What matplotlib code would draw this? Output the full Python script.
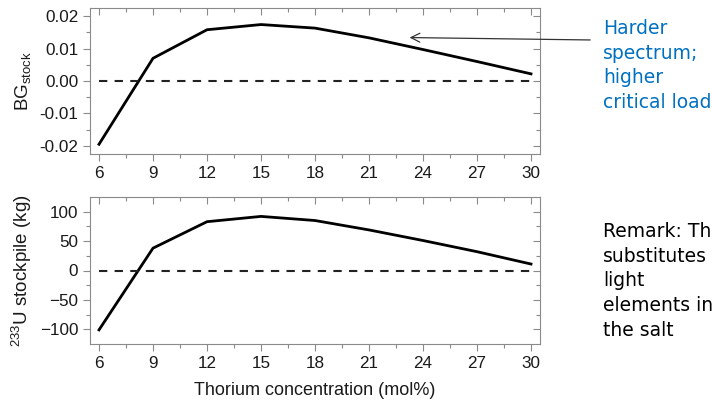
import matplotlib
matplotlib.use("Agg")
import matplotlib.pyplot as plt

# data
thorium = [6, 9, 12, 15, 18, 21, 24, 27, 30]
bg_stock = [-0.0195, 0.0070, 0.0158, 0.0174, 0.0163, 0.0133, 0.0097, 0.0060, 0.0022]
u233_stock = [-101, 38, 83, 92, 85, 69, 51, 32, 11]
xticks = [6, 9, 12, 15, 18, 21, 24, 27, 30]

plt.rcParams["font.family"] = ["Liberation Sans", "DejaVu Sans"]
fig = plt.figure(figsize=(7.12, 4.08), dpi=100)
W, H = 712, 408

def style(ax, ylim, major, minor):
    ax.set_xlim(5.5, 30.5)
    ax.set_ylim(*ylim)
    ax.set_xticks(xticks)
    ax.set_xticks([x + 1.5 for x in xticks[:-1]], minor=True)
    ax.set_yticks(major)
    ax.set_yticks(minor, minor=True)
    for s in ax.spines.values():
        s.set_color("#8a8a8a")
        s.set_linewidth(0.8)
    ax.tick_params(which="both", direction="out", color="#8a8a8a",
                   labelsize=12.3, labelcolor="#1a1a1a", top=True, right=True)
    ax.tick_params(which="major", length=5, width=0.8)
    ax.tick_params(which="minor", length=3, width=0.8)
    # top/right ticks point inward
    for t in ax.xaxis.get_major_ticks() + ax.xaxis.get_minor_ticks():
        t.tick2line.set_marker(3)
    for t in ax.yaxis.get_major_ticks() + ax.yaxis.get_minor_ticks():
        t.tick2line.set_marker(0)
    ax.axhline(0, color="#222222", lw=1.5, ls=(0, (4, 3.5)), xmin=0.02, xmax=0.98)

# top panel
ax1 = fig.add_axes([90 / W, 1 - 154 / H, 450 / W, 146 / H])
ax1.plot(thorium, bg_stock, color="black", lw=2)
style(ax1, (-0.0225, 0.0225), [-0.02, -0.01, 0.0, 0.01, 0.02],
      [-0.015, -0.005, 0.005, 0.015])
ax1.set_yticklabels(["-0.02", "-0.01", "0.00", "0.01", "0.02"])
ax1.set_ylabel(r"BG$_{\mathregular{stock}}$", fontsize=13.5, color="#1a1a1a", labelpad=4)

# bottom panel
ax2 = fig.add_axes([90 / W, 1 - 344 / H, 450 / W, 147 / H])
ax2.plot(thorium, u233_stock, color="black", lw=2)
style(ax2, (-125, 125), [-100, -50, 0, 50, 100], [-75, -25, 25, 75])
ax2.set_ylabel(r"$^{\mathregular{233}}$U stockpile (kg)", fontsize=13.5,
               color="#1a1a1a", labelpad=4)
ax2.set_xlabel("Thorium concentration (mol%)", fontsize=13, color="#1a1a1a", labelpad=8)

# annotation on the right
fig.text(603 / W, 1 - 19 / H, "Harder\nspectrum;\nhigher\ncritical load",
         color="#0070c0", fontsize=13.5, family="DejaVu Sans", va="top",
         linespacing=1.38)
ax1.annotate("", xy=(23.1, 0.0134), xycoords="data",
             xytext=(593 / W, 1 - 40 / H), textcoords="figure fraction",
             arrowprops=dict(arrowstyle="->", color="#333333", lw=0.9,
                             mutation_scale=16))

fig.text(603 / W, 1 - 222 / H, "Remark: Thorium\nsubstitutes\nlight\nelements in\nthe salt",
         color="black", fontsize=13.5, family="DejaVu Sans", va="top",
         linespacing=1.38)

fig.savefig("out.png", dpi=100)
